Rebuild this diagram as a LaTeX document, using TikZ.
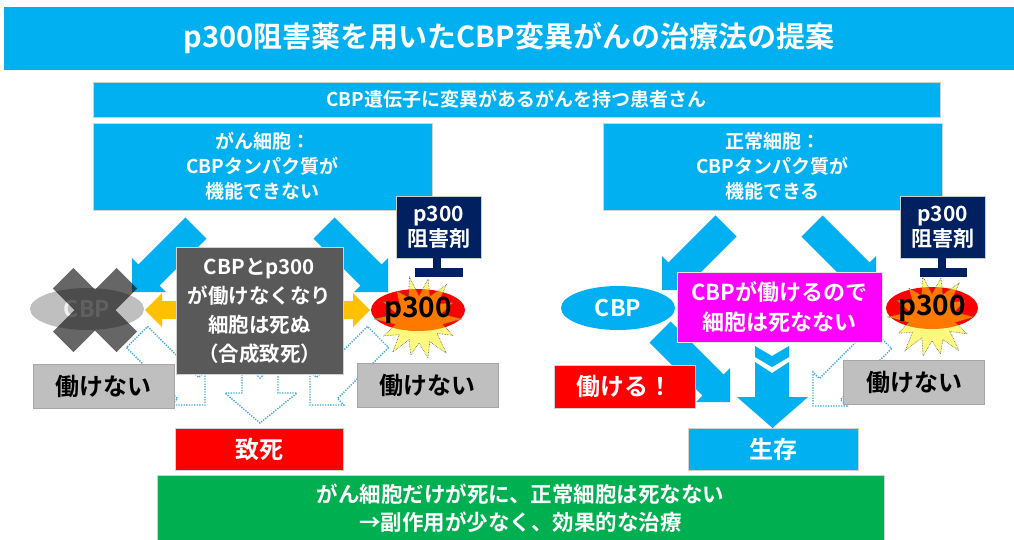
\documentclass[tikz,border=0pt]{standalone}
\usepackage{fontspec}
\setmainfont{Noto Sans CJK JP}[BoldFont=* Bold]
\usetikzlibrary{calc,shapes.geometric}
\definecolor{cy}{HTML}{00B0F0}
\definecolor{navy}{HTML}{002060}
\definecolor{gbox}{HTML}{BFBFBF}
\definecolor{dbox}{HTML}{595959}
\definecolor{grn}{HTML}{00B050}
\definecolor{gold}{HTML}{FFC000}
\definecolor{dotc}{HTML}{3EA8DC}
\definecolor{mag}{HTML}{FF00FF}
\newcommand{\myfs}[2]{\fontsize{#1}{#2}\selectfont}
% style, tail, tip, shaft half width, head half width, head length
\newcommand{\blockarrow}[6]{%
  \coordinate (ba-C) at ($#3!#6!#2$);
  \draw[#1] ($#2!#4!90:#3$) -- ($(ba-C)!#4!90:#3$) -- ($(ba-C)!#5!90:#3$) -- #3
    -- ($(ba-C)!#5!-90:#3$) -- ($(ba-C)!#4!-90:#3$) -- ($#2!#4!-90:#3$) -- cycle;}
\begin{document}
\begin{tikzpicture}[x=1pt,y=-1pt,
  box/.style={draw=black!18, line width=0.7pt, inner sep=0pt, align=center, text=white, font=\bfseries\myfs{19}{25}},
  cyarrow/.style={fill=cy, draw=none},
  dotarrow/.style={draw=dotc, dash pattern=on 1.3pt off 1.3pt, line width=1.4pt},
  burst/.style={fill=yellow, fill opacity=0.5, draw=black!65, densely dotted, line width=0.6pt},
  nogo/.style={box, fill=gbox, draw=black!35, text=black, font=\bfseries\myfs{24}{28}, minimum width=141pt, minimum height=44pt},
  inhib/.style={box, fill=navy, draw=black!20, font=\bfseries\myfs{21}{25}, minimum width=85pt, minimum height=62pt},
  ptxt/.style={text=black, font=\bfseries\myfs{28}{30}, inner sep=0pt}]
\useasboundingbox (0,0) rectangle (1014,539);

% headers
\node[box, fill=cy, draw=none, minimum width=1010pt, minimum height=63pt, font=\bfseries\myfs{29}{34}] (title) at (509,38.5) {p300阻害薬を用いたCBP変異がんの治療法の提案};
\node[box, fill=cy, minimum width=847pt, minimum height=35pt] (sub) at (516.5,99.5) {CBP遺伝子に変異があるがんを持つ患者さん};
\node[box, fill=cy, minimum width=339pt, minimum height=87pt] (cellL) at (262.5,166.5) {がん細胞：\\CBPタンパク質が\\機能できない};
\node[box, fill=cy, minimum width=339pt, minimum height=87pt] (cellR) at (772.5,166.5) {正常細胞：\\CBPタンパク質が\\機能できる};

% coordinates for block arrows
\coordinate (aLLt) at (196,228); \coordinate (aLLh) at (132,292);
\coordinate (aLRt) at (324,228); \coordinate (aLRh) at (388,292);
\coordinate (aRLt) at (726,226); \coordinate (aRLh) at (662,290);
\coordinate (aRRt) at (812,226); \coordinate (aRRh) at (876,290);
\coordinate (aRDt) at (660,332); \coordinate (aRDh) at (730,402);
\coordinate (dLLt) at (137,337); \coordinate (dLLh) at (205,405);
\coordinate (dLRt) at (378,337); \coordinate (dLRh) at (310,405);
\coordinate (dRRt) at (881,338); \coordinate (dRRh) at (813,406);

\blockarrow{cyarrow}{(aLLt)}{(aLLh)}{15pt}{24pt}{24pt}
\blockarrow{cyarrow}{(aLRt)}{(aLRh)}{15pt}{24pt}{24pt}
\blockarrow{cyarrow}{(aRLt)}{(aRLh)}{15pt}{24pt}{24pt}
\blockarrow{cyarrow}{(aRRt)}{(aRRh)}{15pt}{24pt}{24pt}
\blockarrow{cyarrow}{(aRDt)}{(aRDh)}{15pt}{24pt}{24pt}
\blockarrow{dotarrow}{(dLLt)}{(dLLh)}{15pt}{24pt}{24pt}
\blockarrow{dotarrow}{(dLRt)}{(dLRh)}{15pt}{24pt}{24pt}
\blockarrow{dotarrow}{(dRRt)}{(dRRh)}{15pt}{24pt}{24pt}

% centre down arrows
\draw[dotarrow] (242,362) -- (260,378) -- (278,362) -- (278,393) -- (297,393) -- (260,423) -- (225,393) -- (242,393) -- cycle;
\fill[cy] (755,346) -- (772,356) -- (789,346) -- (789,357) -- (772,367) -- (755,357) -- cycle;
\fill[cy] (755,362) -- (772,373) -- (789,362) -- (789,397) -- (808,397) -- (772.5,428) -- (737,397) -- (755,397) -- cycle;

% gold double arrow
\coordinate (yl) at (145,310); \coordinate (yr) at (370,310);
\fill[gold] (yl) -- ++(17,-17) -- ++(0,8) -- ($(yr)+(-17,-9)$) -- ++(0,-8) -- (yr) -- ++(-17,17) -- ++(0,-8) -- ($(yl)+(17,9)$) -- ++(0,8) -- cycle;

% left CBP (crossed out)
\node[ellipse, fill=gbox, minimum width=114pt, minimum height=42pt, inner sep=0pt, text=white!88!gray, font=\bfseries\myfs{23}{26}] (cbpL) at (87,309) {CBP};
\fill[black, opacity=0.6, shift={(95,310)}] (20.5,0) -- (42.1,21.6) -- (21.6,42.1) -- (0,20.5) -- (-21.6,42.1) -- (-42.1,21.6) -- (-20.5,0) -- (-42.1,-21.6) -- (-21.6,-42.1) -- (0,-20.5) -- (21.6,-42.1) -- (42.1,-21.6) -- cycle;

% right CBP
\node[ellipse, fill=cy, minimum width=114pt, minimum height=44pt, inner sep=0pt, text=white, font=\bfseries\myfs{23}{26}] (cbpR) at (618,308) {CBP};

% p300 with bursts
\node[ellipse, fill=red, minimum width=94pt, minimum height=42pt] (p300L) at (418,310) {};
\node[ellipse, fill=red, minimum width=92pt, minimum height=42pt] (p300R) at (932,308) {};
\draw[burst, shift={(419,319)}] plot coordinates {(0:43) (12.9:24) (25.7:38) (38.6:23) (51.4:44) (64.3:25) (77.1:40) (90:24) (102.9:37) (115.7:23) (128.6:42) (141.4:25) (154.3:39) (167.1:24) (180:45) (192.9:23) (205.7:40) (218.6:25) (231.4:36) (244.3:24) (257.1:43) (270:23) (282.9:41) (295.7:25) (308.6:44) (321.4:24) (334.3:38) (347.1:23)} -- cycle;
\draw[burst, shift={(932,317)}] plot coordinates {(0:42) (12.9:24) (25.7:39) (38.6:23) (51.4:43) (64.3:25) (77.1:38) (90:24) (102.9:40) (115.7:23) (128.6:43) (141.4:25) (154.3:37) (167.1:24) (180:44) (192.9:23) (205.7:39) (218.6:25) (231.4:37) (244.3:24) (257.1:42) (270:23) (282.9:40) (295.7:25) (308.6:44) (321.4:24) (334.3:37) (347.1:23)} -- cycle;
\node[ptxt] (p300Lt) at (p300L.center) {p300};
\node[ptxt] (p300Rt) at (p300R.center) {p300};

% inhibitors
\node[inhib] (inhL) at (438.5,227) {p300\\阻害剤};
\node[inhib] (inhR) at (942.5,227.5) {p300\\阻害剤};
\fill[navy] (433,257) rectangle (441,269);
\fill[navy] (415,268) rectangle (463,277);
\fill[navy] (938,258) rectangle (946,269);
\fill[navy] (920,268) rectangle (967,277);

% central boxes
\node[box, fill=dbox, minimum width=167pt, minimum height=127pt, font=\bfseries\myfs{20.5}{29}] (dark) at (259.5,310.5) {CBPとp300\\が働けなくなり\\細胞は死ぬ\\（合成致死）};
\node[box, fill=mag, draw=white!80!gray, minimum width=205pt, minimum height=70pt, font=\bfseries\myfs{22}{30}] (magb) at (779.5,307) {CBPが働けるので\\細胞は死なない};

\node[nogo] (ngL1) at (103.5,386.5) {働けない};
\node[nogo] (ngL2) at (427.5,385) {働けない};
\node[nogo] (ngR) at (914,382) {働けない};
\node[box, fill=red, minimum width=141pt, minimum height=43pt, font=\bfseries\myfs{24}{28}] (okb) at (624.5,386.5) {働ける！};

\node[box, fill=red, minimum width=168pt, minimum height=42pt, font=\bfseries\myfs{24}{28}] (death) at (259,449) {致死};
\node[box, fill=cy, minimum width=170pt, minimum height=42pt, font=\bfseries\myfs{24}{28}] (live) at (773,449) {生存};

\node[box, fill=grn, minimum width=727pt, minimum height=66pt, font=\bfseries\myfs{21.5}{28}] (concl) at (520.5,508) {がん細胞だけが死に、正常細胞は死なない\\→副作用が少なく、効果的な治療};
\end{tikzpicture}
\end{document}
